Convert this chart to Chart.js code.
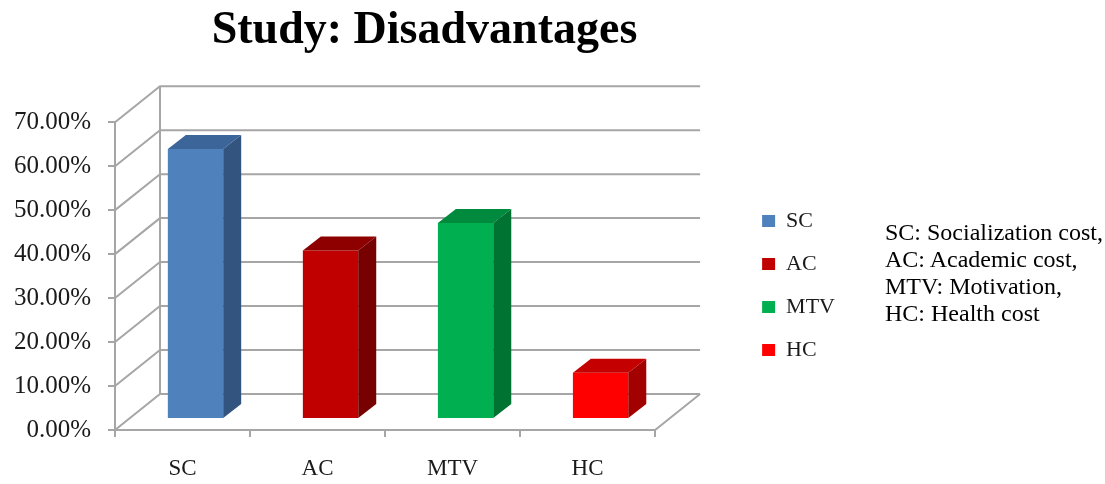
<!DOCTYPE html>
<html>
<head>
<meta charset="utf-8">
<script src="https://cdn.jsdelivr.net/npm/chart.js@4.4.1/dist/chart.umd.min.js"></script>
<style>
  html, body { margin: 0; padding: 0; background: #fff; }
  #wrap { position: relative; width: 1105px; height: 484px; }
  #nota { position: absolute; left: 885px; top: 219px; font: 24px/27px "Liberation Serif", serif; color: #000; white-space: nowrap; }
</style>
</head>
<body>
<div id="wrap">
  <canvas id="grafico" width="1105" height="484"></canvas>
  <div id="nota"></div>
</div>
<script>
const categorias = ["SC", "AC", "MTV", "HC"];
const percentuais = [61.4, 38.3, 44.6, 10.5];
const notas = ["SC: Socialization cost,", "AC: Academic cost,", "MTV: Motivation,", "HC: Health cost"];
const titulo = "Study: Disadvantages";

const corFrente = ["#4f81bd", "#c00000", "#00b050", "#ff0000"];
const corTopo = ["#3c669a", "#8e0000", "#008a3d", "#c40000"];
const corLado = ["#33547e", "#770000", "#007333", "#a30000"];
const GRADE = "#a6a6a6";
const TEXTO = "#1a1a1a";
const FUNDO = { dx: 45, dy: -36 };   // back wall offset
const DESLOC = { dx: 13, dy: -11 };  // bar front plane
const PROF = { dx: 18, dy: -14 };    // bar depth

document.getElementById("nota").innerHTML = notas.join("<br>");

const caixa3d = {
  id: "caixa3d",
  beforeDatasetsDraw(chart) {
    const { ctx, chartArea: a, scales: { y } } = chart;
    ctx.save();
    ctx.strokeStyle = GRADE;
    ctx.lineWidth = 2;
    ctx.beginPath();
    y.ticks.forEach(t => {
      const py = y.getPixelForValue(t.value);
      ctx.moveTo(a.left, py);
      ctx.lineTo(a.left + FUNDO.dx, py + FUNDO.dy);
      ctx.lineTo(a.right + FUNDO.dx, py + FUNDO.dy);
    });
    ctx.moveTo(a.left + FUNDO.dx, a.bottom + FUNDO.dy);
    ctx.lineTo(a.left + FUNDO.dx, a.top + FUNDO.dy);
    ctx.moveTo(a.right, a.bottom);
    ctx.lineTo(a.right + FUNDO.dx, a.bottom + FUNDO.dy);
    ctx.stroke();
    ctx.restore();
    // front faces are drawn by Chart.js, shifted into the box
    ctx.save();
    ctx.translate(DESLOC.dx, DESLOC.dy);
  },
  afterDatasetsDraw(chart) {
    const { ctx } = chart;
    ctx.restore();
    chart.getDatasetMeta(0).data.forEach((bar, i) => {
      const { x, y, base, width } = bar.getProps(["x", "y", "base", "width"], true);
      const l = x - width / 2 + DESLOC.dx, r = x + width / 2 + DESLOC.dx;
      const t = y + DESLOC.dy, b = base + DESLOC.dy;
      ctx.fillStyle = corTopo[i];
      ctx.beginPath();
      ctx.moveTo(l, t);
      ctx.lineTo(r, t);
      ctx.lineTo(r + PROF.dx, t + PROF.dy);
      ctx.lineTo(l + PROF.dx, t + PROF.dy);
      ctx.closePath();
      ctx.fill();
      ctx.fillStyle = corLado[i];
      ctx.beginPath();
      ctx.moveTo(r, t);
      ctx.lineTo(r + PROF.dx, t + PROF.dy);
      ctx.lineTo(r + PROF.dx, b + PROF.dy);
      ctx.lineTo(r, b);
      ctx.closePath();
      ctx.fill();
    });
  }
};

const fonte = "Liberation Serif";

new Chart(document.getElementById("grafico"), {
  type: "bar",
  data: {
    labels: categorias,
    datasets: [{
      label: titulo,
      data: percentuais,
      backgroundColor: corFrente,
      borderWidth: 0,
      categoryPercentage: 1,
      barPercentage: 0.41,
      clip: false
    }]
  },
  options: {
    responsive: false,
    animation: false,
    events: [],
    layout: { padding: { left: 4, right: 260, top: 0, bottom: 0 } },
    scales: {
      x: {
        grid: { drawOnChartArea: false, drawTicks: true, tickLength: 7, color: GRADE, lineWidth: 2, offset: true },
        border: { color: GRADE, width: 2 },
        ticks: { color: TEXTO, padding: 18, font: { family: fonte, size: 23 } },
        afterFit: s => { s.height = 54; }
      },
      y: {
        min: 0,
        max: 70,
        grid: { drawOnChartArea: false, drawTicks: true, tickLength: 7, color: GRADE, lineWidth: 2 },
        border: { color: GRADE, width: 2 },
        ticks: {
          stepSize: 10,
          padding: 17,
          color: TEXTO,
          font: { family: fonte, size: 25 },
          callback: v => v.toFixed(2) + "%"
        },
        afterFit: s => { s.width = 111; }
      },
      espaco: {
        type: "linear",
        position: "right",
        grid: { display: false },
        border: { display: false },
        ticks: { display: false },
        afterFit: s => { s.width = 86; }
      }
    },
    plugins: {
      title: {
        display: true,
        text: titulo,
        color: "#000",
        font: { family: fonte, size: 46, weight: "bold" },
        padding: { top: 4, bottom: 63 }
      },
      legend: {
        position: "right",
        title: { display: true, text: "", font: { size: 10 }, padding: { top: 75, bottom: 0 } },
        labels: {
          boxWidth: 13,
          boxHeight: 12,
          padding: 21,
          color: TEXTO,
          font: { family: fonte, size: 22 },
          generateLabels: () => categorias.map((c, i) => ({
            text: c, fillStyle: corFrente[i], strokeStyle: corFrente[i], fontColor: TEXTO,
            lineWidth: 0, hidden: false, index: i
          }))
        }
      },
      tooltip: { enabled: false }
    }
  },
  plugins: [caixa3d]
});
</script>
</body>
</html>
